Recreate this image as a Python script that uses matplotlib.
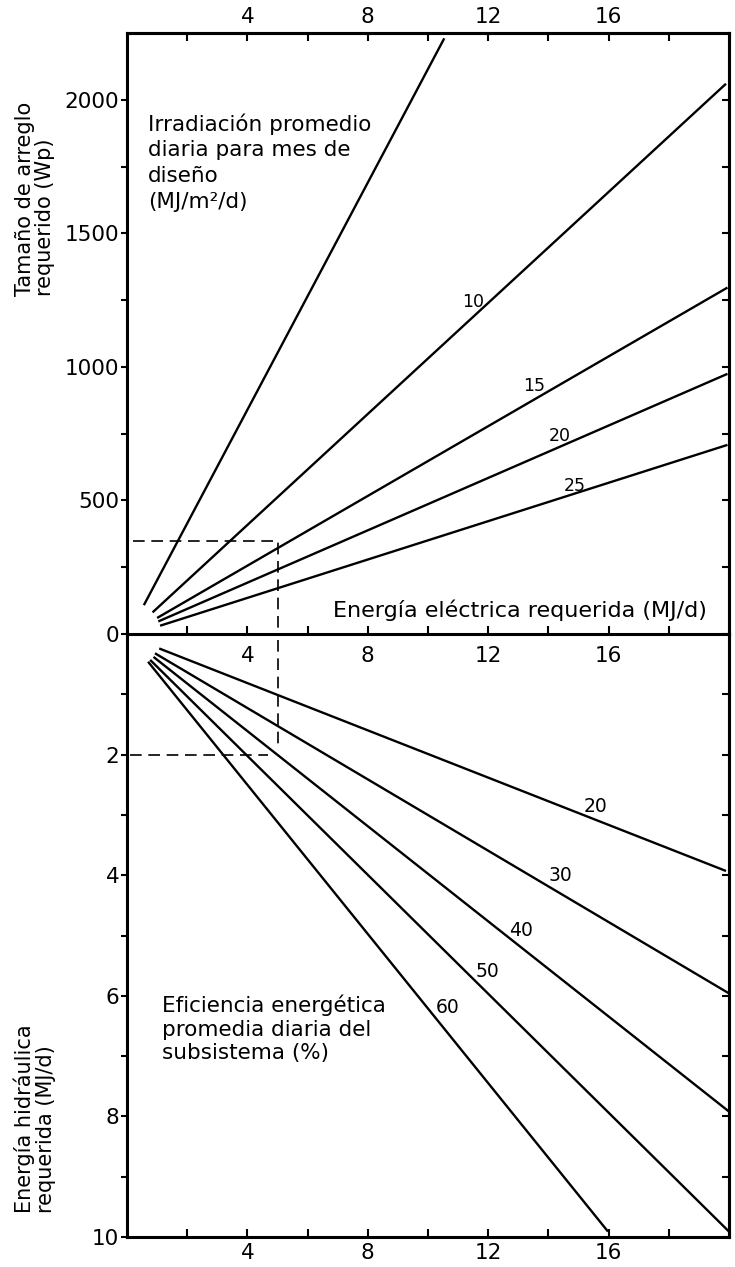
import matplotlib
matplotlib.use('Agg')
import matplotlib.pyplot as plt

plt.rcParams['font.family'] = ['DejaVu Sans']

# ---------------- data ----------------
# Top panel: required array size (Wp) vs required electrical energy (MJ/d)
irr_labels = ['5', '10', '15', '20', '25']          # MJ/m2/d
irr_x_start = [0.56, 0.85, 1.00, 1.04, 1.10]
irr_y_start = [108, 81, 60, 47, 31]
irr_x_end = [10.54, 19.9, 19.95, 19.95, 19.95]
irr_y_end = [2230, 2060, 1297, 974, 708]

# Bottom panel: required hydraulic energy (MJ/d) vs electrical energy
eff_labels = ['20', '30', '40', '50', '60']          # %
eff_x_start = [1.07, 0.93, 0.88, 0.77, 0.70]
eff_y_start = [0.24, 0.32, 0.38, 0.43, 0.46]
eff_x_end = [19.9, 20.0, 20.0, 20.0, 15.98]
eff_y_end = [3.93, 5.96, 7.92, 9.91, 9.91]

# design example (dashed)
ex_energy = 5
ex_array = 350
ex_hydraulic = 2

x_ticks = [2, 4, 6, 8, 10, 12, 14, 16, 18]
x_ticklabels = ['', '4', '', '8', '', '12', '', '16', '']
top_yticks = [0, 250, 500, 750, 1000, 1250, 1500, 1750, 2000]
top_yticklabels = ['0', '', '500', '', '1000', '', '1500', '', '2000']
bot_yticks = [1, 2, 3, 4, 5, 6, 7, 8, 9, 10]
bot_yticklabels = ['', '2', '', '4', '', '6', '', '8', '', '10']

# label placement (layout)
irr_label_pos = [None, (11.5, 1244), (13.53, 928), (14.39, 741), (14.86, 554)]
eff_label_pos = [(15.56, 2.86), (14.39, 4.0), (13.1, 4.92), (11.98, 5.6), (10.65, 6.19)]

# ---------------- figure ----------------
W, H = 735, 1267
fig = plt.figure(figsize=(W / 100, H / 100), dpi=100)
L, R = 127 / W, 729 / W
ytop, ymid, ybot = 1 - 33 / H, 1 - 634 / H, 1 - 1237 / H
ax_t = fig.add_axes([L, ymid, R - L, ytop - ymid])
ax_b = fig.add_axes([L, ybot, R - L, ymid - ybot])
for ax in (ax_t, ax_b):
    ax.set_facecolor('none')
    for s in ax.spines.values():
        s.set_linewidth(2.2)

LW = 1.7
TS = 15.5

# top panel
ax_t.set_xlim(0, 20)
ax_t.set_ylim(0, 2250)
for xs, ys, xe, ye in zip(irr_x_start, irr_y_start, irr_x_end, irr_y_end):
    ax_t.plot([xs, xe], [ys, ye], color='black', lw=LW, solid_capstyle='butt')
for lab, pos in zip(irr_labels, irr_label_pos):
    if pos is not None:
        ax_t.text(pos[0], pos[1], lab, fontsize=12.5, ha='center', va='center')
ax_t.plot([0.2, ex_energy, ex_energy], [ex_array, ex_array, 0], color='black',
          lw=1.2, dashes=(7, 4))

ax_t.set_xticks(x_ticks)
ax_t.set_xticklabels(x_ticklabels)
ax_t.tick_params(axis='x', bottom=True, top=False, labelbottom=True, direction='in',
                 length=6, width=1.5, labelsize=TS, pad=9)
ax_t.set_yticks(top_yticks)
ax_t.set_yticklabels(top_yticklabels)
ax_t.tick_params(axis='y', left=True, right=False, direction='out', length=4,
                 width=1.5, labelsize=TS, pad=1.5)
sx = ax_t.secondary_xaxis('top')
sx.set_xticks(x_ticks)
sx.set_xticklabels(x_ticklabels)
sx.tick_params(direction='in', length=6, width=1.5, labelsize=TS, pad=4)
sx.spines['top'].set_linewidth(2.2)
sy = ax_t.secondary_yaxis('right')
sy.set_yticks(top_yticks)
sy.set_yticklabels([])
sy.tick_params(direction='in', length=5, width=1.5)
sy.spines['right'].set_linewidth(2.2)

ax_t.text(0.69, 1950, 'Irradiación promedio\ndiaria para mes de\ndiseño\n(MJ/m²/d)',
          fontsize=15.5, ha='left', va='top', linespacing=1.36)
ax_t.text(19.25, 90, 'Energía eléctrica requerida (MJ/d)', fontsize=16,
          ha='right', va='center')

# bottom panel
ax_b.set_xlim(0, 20)
ax_b.set_ylim(10, 0)
ax_b.spines['top'].set_visible(False)
for xs, ys, xe, ye in zip(eff_x_start, eff_y_start, eff_x_end, eff_y_end):
    ax_b.plot([xs, xe], [ys, ye], color='black', lw=LW, solid_capstyle='butt')
for lab, pos in zip(eff_labels, eff_label_pos):
    ax_b.text(pos[0], pos[1], lab, fontsize=13.5, ha='center', va='center')
ax_b.plot([ex_energy, ex_energy], [0.1, 1.87], color='black', lw=1.2, dashes=(7, 4))
ax_b.plot([0.1, 4.7], [ex_hydraulic, ex_hydraulic], color='black', lw=1.2,
          dashes=(7, 4))

ax_b.set_xticks(x_ticks)
ax_b.set_xticklabels(x_ticklabels)
ax_b.tick_params(axis='x', bottom=True, top=False, direction='in', length=6,
                 width=1.5, labelsize=TS, pad=4)
ax_b.set_yticks(bot_yticks)
ax_b.set_yticklabels(bot_yticklabels)
ax_b.tick_params(axis='y', left=True, right=False, direction='out', length=4,
                 width=1.5, labelsize=TS, pad=1.5)
sy2 = ax_b.secondary_yaxis('right')
sy2.set_yticks(bot_yticks)
sy2.set_yticklabels([])
sy2.tick_params(direction='in', length=5, width=1.5)
sy2.spines['right'].set_linewidth(2.2)

ax_b.text(1.15, 5.98, 'Eficiencia energética\npromedia diaria del\nsubsistema (%)',
          fontsize=15.5, ha='left', va='top', linespacing=1.22)

# axis titles (rotated, two lines, left aligned)
fig.text(35 / W, 1 - 296 / H, 'Tamaño de arreglo\nrequerido (Wp)', rotation=90,
         fontsize=15, ha='center', va='bottom', multialignment='left',
         linespacing=1.05)
fig.text(35 / W, 1 - 1213 / H, 'Energía hidráulica\nrequerida (MJ/d)', rotation=90,
         fontsize=15, ha='center', va='bottom', multialignment='left',
         linespacing=1.05)

fig.savefig('out.png', dpi=100)
